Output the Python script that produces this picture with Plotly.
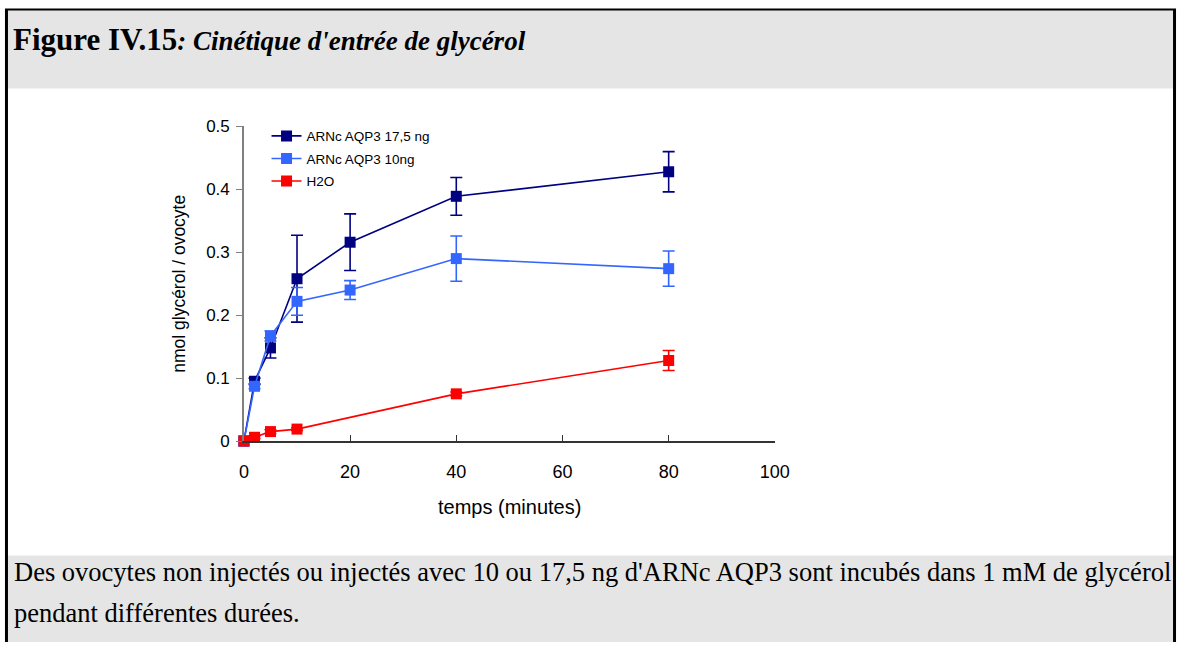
import plotly.graph_objects as go

W, H = 1191, 652

# ---- data ----
t_aqp3_17 = [0, 2, 5, 10, 20, 40, 80]
y_aqp3_17 = [0.0, 0.095, 0.148, 0.258, 0.316, 0.389, 0.428]
e_aqp3_17 = [0.0, 0.005, 0.016, 0.069, 0.045, 0.030, 0.032]

t_aqp3_10 = [0, 2, 5, 10, 20, 40, 80]
y_aqp3_10 = [0.0, 0.087, 0.167, 0.222, 0.240, 0.290, 0.274]
e_aqp3_10 = [0.0, 0.004, 0.008, 0.022, 0.015, 0.036, 0.028]

t_h2o = [0, 2, 5, 10, 40, 80]
y_h2o = [0.0, 0.006, 0.015, 0.019, 0.075, 0.128]
e_h2o = [0.0, 0.002, 0.003, 0.002, 0.003, 0.016]

names = ["ARNc AQP3 17,5 ng", "ARNc AQP3 10ng", "H2O"]
colors = ["#000080", "#3366FF", "#FF0000"]

x_ticks = [0, 20, 40, 60, 80, 100]
y_ticks = [0, 0.1, 0.2, 0.3, 0.4, 0.5]
y_tick_text = ["0", "0.1", "0.2", "0.3", "0.4", "0.5"]

title_main = "Figure IV.15"
title_sub = ": Cinétique d'entrée de glycérol"
caption_1 = "Des ovocytes non injectés ou injectés avec 10 ou 17,5 ng d'ARNc AQP3 sont incubés dans 1 mM de glycérol"
caption_2 = "pendant différentes durées."
x_title = "temps (minutes)"
y_title = "nmol glycérol / ovocyte"

# ---- layout helpers (pixels -> paper) ----
def px(x):
    return x / W

def py(y):
    return 1 - y / H

fig = go.Figure()
for i, (t, y, e, n, c) in enumerate([
    (t_aqp3_17, y_aqp3_17, e_aqp3_17, names[0], colors[0]),
    (t_aqp3_10, y_aqp3_10, e_aqp3_10, names[1], colors[1]),
    (t_h2o, y_h2o, e_h2o, names[2], colors[2]),
]):
    fig.add_trace(go.Scatter(
        x=t, y=y, name=n, mode="lines+markers", legendgroup=f"g{i}",
        line=dict(color=c, width=1.6),
        marker=dict(symbol="square", size=11, color=c),
        error_y=dict(type="data", array=e, visible=True, color=c, thickness=1.6, width=6),
        cliponaxis=False,
    ))

font_sans = "Liberation Sans, Arial, sans-serif"
font_serif = "Liberation Serif, Times New Roman, serif"

fig.update_layout(
    width=W, height=H,
    margin=dict(l=0, r=0, t=0, b=0),
    paper_bgcolor="white", plot_bgcolor="white",
    font=dict(family=font_sans, size=17, color="black"),
    showlegend=True,
    legend=dict(
        x=px(266), y=py(115), xanchor="left", yanchor="top",
        bgcolor="rgba(0,0,0,0)", font=dict(size=13.5, family=font_sans),
        tracegroupgap=2, itemwidth=30,
    ),
    xaxis=dict(
        domain=[px(243), px(783)], range=[0, 100],
        tickvals=x_ticks, ticks="inside", ticklen=6, tickcolor="#333333",
        showline=True, linecolor="#333333", linewidth=1.5,
        showgrid=False, zeroline=False, ticklabelstandoff=14,
        tickfont=dict(size=18),
    ),
    yaxis=dict(
        domain=[py(445), py(121)], range=[0, 0.5],
        tickvals=y_ticks, ticktext=y_tick_text, ticks="outside", ticklen=6,
        tickcolor="#808080",
        showline=True, linecolor="#808080", linewidth=1.5,
        showgrid=False, zeroline=False, ticklabelstandoff=3,
        tickfont=dict(size=17),
    ),
)

shapes = [
    # header band
    dict(type="rect", xref="paper", yref="paper", x0=0, x1=1, y0=py(82), y1=1,
         fillcolor="#E5E5E5", line=dict(width=0), layer="below"),
    # caption band
    dict(type="rect", xref="paper", yref="paper", x0=0, x1=1, y0=0, y1=py(563),
         fillcolor="#E5E5E5", line=dict(width=0), layer="below"),
    # borders
    dict(type="line", xref="paper", yref="paper", x0=px(1.5), x1=px(1.5), y0=0, y1=1,
         line=dict(color="black", width=3)),
    dict(type="line", xref="paper", yref="paper", x0=px(1189.5), x1=px(1189.5), y0=0, y1=1,
         line=dict(color="black", width=3)),
    dict(type="line", xref="paper", yref="paper", x0=0, x1=1, y0=py(0.5), y1=py(0.5),
         line=dict(color="black", width=2)),
]
fig.update_layout(shapes=shapes)

annotations = [
    dict(xref="paper", yref="paper", x=px(6), y=py(31), xanchor="left", yanchor="middle",
         showarrow=False, align="left",
         text=f"<b>{title_main}</b><b><i><span style='font-size:27px'>{title_sub}</span></i></b>",
         font=dict(family=font_serif, size=31, color="black")),
    dict(xref="paper", yref="paper", x=px(7), y=py(580), xanchor="left", yanchor="middle",
         showarrow=False, text=caption_1, font=dict(family=font_serif, size=26.5, color="black")),
    dict(xref="paper", yref="paper", x=px(7), y=py(622), xanchor="left", yanchor="middle",
         showarrow=False, text=caption_2, font=dict(family=font_serif, size=26.5, color="black")),
    dict(xref="paper", yref="paper", x=px(513), y=py(513), xanchor="center", yanchor="middle",
         showarrow=False, text=x_title, font=dict(family=font_sans, size=20, color="black")),
    dict(xref="paper", yref="paper", x=px(177), y=py(283), xanchor="center", yanchor="middle",
         showarrow=False, text=y_title, textangle=-90,
         font=dict(family=font_sans, size=17.5, color="black")),
]
fig.update_layout(annotations=annotations)

post = (
    "var s=document.createElement('style');"
    "s.innerHTML='html,body{margin:0!important;padding:0!important;overflow:hidden!important;}';"
    "document.head.appendChild(s);"
)

fig.write_html(
    "out.html",
    config={"displayModeBar": False},
    post_script=post,
)
